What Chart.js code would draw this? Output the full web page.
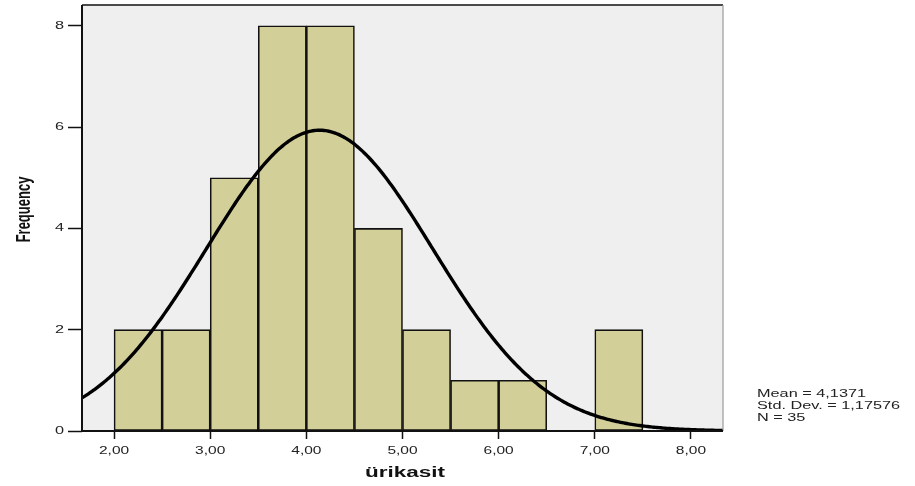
<!DOCTYPE html>
<html>
<head>
<meta charset="utf-8">
<script src="https://cdn.jsdelivr.net/npm/chart.js@4/dist/chart.umd.min.js"></script>
<style>
  html, body { margin: 0; padding: 0; background: #ffffff; }
  #wrap { width: 915px; height: 486px; position: relative; }
</style>
</head>
<body>
<div id="wrap"><canvas id="c" width="915" height="486"></canvas></div>
<script>
// Histogram of ürikasit (bin width 0,5) with fitted normal curve
const BIN_STARTS = [2.0, 2.5, 3.0, 3.5, 4.0, 4.5, 5.0, 5.5, 6.0, 6.5, 7.0];
const BIN_COUNTS = [2, 2, 5, 8, 8, 4, 2, 1, 1, 0, 2];
const BIN_WIDTH = 0.5;

const X_TICKS = [2, 3, 4, 5, 6, 7, 8];
const X_TICK_LABELS = ['2,00', '3,00', '4,00', '5,00', '6,00', '7,00', '8,00'];
const Y_TICKS = [0, 2, 4, 6, 8];

const MEAN = 4.1371;
const STD_DEV = 1.17576;
const N = 35;
const STATS_LINES = ['Mean = 4,1371', 'Std. Dev. = 1,17576', 'N = 35'];
const X_TITLE = 'ürikasit';
const Y_TITLE = 'Frequency';

const X_MIN = 1.6667, X_MAX = 8.3333;
const Y_MAX = 8.41;

// text is drawn wide (horizontal stretch) like the original SPSS output
const TEXT_STRETCH = 1.55;
const FONT = '"Liberation Sans", Arial, sans-serif';

// bars centred on their bins; the empty bin is left out
const barData = BIN_STARTS.map((s, i) => ({ x: s + BIN_WIDTH / 2, y: BIN_COUNTS[i] > 0 ? BIN_COUNTS[i] : null }));

// normal curve scaled to counts: N * binWidth * pdf(x)
const curveData = [];
for (let k = 0; k <= 400; k++) {
  const x = X_MIN + (X_MAX - X_MIN) * k / 400;
  const z = (x - MEAN) / STD_DEV;
  const y = N * BIN_WIDTH * Math.exp(-0.5 * z * z) / (STD_DEV * Math.sqrt(2 * Math.PI));
  curveData.push({ x, y });
}

// widen every text glyph horizontally (in device space) around its anchor point
const wideTextPlugin = {
  id: 'wideText',
  beforeInit(chart) {
    const ctx = chart.ctx;
    const orig = ctx.fillText.bind(ctx);
    ctx.fillText = function (text, x, y, maxWidth) {
      const m = ctx.getTransform();
      const px = m.a * x + m.c * y + m.e;
      const s = TEXT_STRETCH;
      ctx.save();
      ctx.setTransform(s * m.a, m.b, s * m.c, m.d, s * m.e + px * (1 - s), m.f);
      if (maxWidth === undefined) orig(text, x, y); else orig(text, x, y, maxWidth);
      ctx.restore();
    };
  }
};

const framePlugin = {
  id: 'frame',
  beforeDatasetsDraw(chart) {
    const { ctx, chartArea: a } = chart;
    ctx.save();
    ctx.fillStyle = '#efefef';
    ctx.fillRect(a.left, a.top, a.right - a.left, a.bottom - a.top);
    ctx.restore();
  },
  afterDatasetsDraw(chart) {
    const { ctx, chartArea: a } = chart;
    ctx.save();
    ctx.lineWidth = 1.5;
    ctx.strokeStyle = '#111111';
    ctx.beginPath();
    ctx.moveTo(a.left, a.top); ctx.lineTo(a.right, a.top);
    ctx.stroke();
    ctx.strokeStyle = '#9a9a9a';
    ctx.lineWidth = 1.2;
    ctx.beginPath();
    ctx.moveTo(a.right, a.top); ctx.lineTo(a.right, a.bottom);
    ctx.stroke();
    ctx.strokeStyle = '#111111';
    ctx.lineWidth = 2;
    ctx.beginPath();
    ctx.moveTo(a.left, a.top); ctx.lineTo(a.left, a.bottom); ctx.lineTo(a.right, a.bottom);
    ctx.stroke();

    // axis titles
    ctx.fillStyle = '#111111';
    ctx.font = 'bold 14.5px ' + FONT;
    ctx.textAlign = 'center';
    ctx.textBaseline = 'alphabetic';
    ctx.fillText(X_TITLE, 405, 477);

    ctx.save();
    ctx.translate(30, 209.5);
    ctx.rotate(-Math.PI / 2);
    ctx.font = 'bold 13px ' + FONT;
    ctx.fillText(Y_TITLE, 0, 0);
    ctx.restore();

    // summary statistics beside the plot
    ctx.fillStyle = '#222222';
    ctx.font = '10.5px ' + FONT;
    ctx.textAlign = 'left';
    ctx.textBaseline = 'alphabetic';
    STATS_LINES.forEach((t, i) => ctx.fillText(t, 757, 397 + i * 12.2));
    ctx.restore();
  }
};

new Chart(document.getElementById('c'), {
  data: {
    datasets: [
      {
        type: 'line',
        data: curveData,
        borderColor: '#000000',
        borderWidth: 3.4,
        pointRadius: 0,
        tension: 0,
        fill: false,
        order: 0
      },
      {
        type: 'bar',
        data: barData,
        backgroundColor: '#d3cf99',
        borderColor: '#111111',
        borderWidth: 1.6,
        borderSkipped: false,
        barPercentage: 1,
        categoryPercentage: 1,
        order: 1
      }
    ]
  },
  options: {
    responsive: false,
    animation: false,
    events: [],
    layout: { padding: { top: 5, right: 192, left: 0, bottom: 0 } },
    plugins: { legend: { display: false }, tooltip: { enabled: false } },
    scales: {
      x: {
        type: 'linear',
        min: X_MIN,
        max: X_MAX,
        offset: false,
        afterFit(s) { s.height = 55; s.paddingLeft = 0; s.paddingRight = 0; },
        afterBuildTicks(s) { s.ticks = X_TICKS.map(v => ({ value: v })); },
        ticks: {
          autoSkip: false,
          maxRotation: 0,
          padding: 6,
          color: '#222222',
          font: { family: FONT, size: 10 },
          callback(v) { const i = X_TICKS.indexOf(v); return i >= 0 ? X_TICK_LABELS[i] : ''; }
        },
        grid: { offset: false, drawOnChartArea: false, drawTicks: true, tickLength: 8, tickColor: '#111111', tickWidth: 1.5 },
        border: { display: false }
      },
      y: {
        type: 'linear',
        min: 0,
        max: Y_MAX,
        afterFit(s) { s.width = 82; s.paddingTop = 0; s.paddingBottom = 0; },
        afterBuildTicks(s) { s.ticks = Y_TICKS.map(v => ({ value: v })); },
        ticks: {
          padding: 4,
          color: '#222222',
          font: { family: FONT, size: 10.5 }
        },
        grid: { drawOnChartArea: false, drawTicks: true, tickLength: 14, tickColor: '#111111', tickWidth: 1.5 },
        border: { display: false }
      }
    }
  },
  plugins: [wideTextPlugin, framePlugin]
});
</script>
</body>
</html>
